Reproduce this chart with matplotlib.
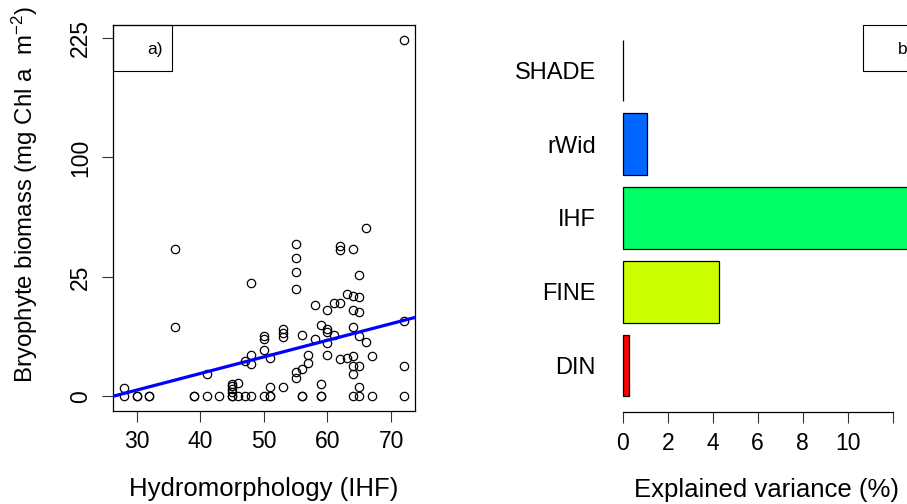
import matplotlib
matplotlib.use("Agg")
import matplotlib.pyplot as plt
import numpy as np
from matplotlib.patches import Rectangle

plt.rcParams.update({"font.family": "Liberation Sans", "mathtext.fontset": "custom",
                     "mathtext.rm": "Liberation Sans", "mathtext.it": "Liberation Sans:italic"})

# panel a: hydromorphology index vs bryophyte biomass
ihf = [28, 28, 30, 30, 32, 32, 36, 36, 39, 39, 41, 41, 43,
       45, 45, 45, 45, 45, 45, 46, 46, 47, 47, 48, 48, 48, 48,
       50, 50, 50, 50, 51, 51, 51, 51, 53, 53, 53, 53,
       55, 55, 55, 55, 55, 55, 56, 56, 56, 56, 57, 57, 58, 58,
       59, 59, 59, 59, 60, 60, 60, 60, 60, 61, 61, 62, 62, 62, 62, 63, 63,
       64, 64, 64, 64, 64, 64, 64, 64, 65, 65, 65, 65, 65, 65, 65,
       66, 66, 67, 67, 72, 72, 72, 72]
biomass = [0, 0.13, 0, 0, 0, 0, 37.9, 8.44, 0, 0, 0, 0.85, 0,
           0, 0, 0.28, 0.18, 0.09, 0.03, 0, 0.31, 0, 2.15, 0, 3.05, 1.8, 22.7,
           0, 6.46, 5.84, 3.83, 0, 0, 2.6, 0.15, 8.04, 7.12, 6.17, 0.15,
           40.6, 33.6, 27.0, 20.1, 1.04, 0.61, 0, 0, 6.53, 1.35, 2.95, 1.95, 14.5, 5.84,
           0, 0, 8.85, 0.25, 13.0, 8.04, 7.26, 4.98, 2.95, 15.4, 6.68, 39.5, 37.4, 15.4, 2.5, 18.2, 2.63,
           0, 38.3, 17.5, 13.2, 8.42, 2.81, 1.58, 0.85, 0, 25.8, 17.3, 12.4, 6.32, 1.58, 0.15,
           49.7, 5.17, 0, 2.81, 0, 223, 9.95, 1.65]
fit_intercept, fit_slope = -1.821, 0.0695   # sqrt(biomass) ~ IHF
y_ticks = [0, 25, 100, 225]

# panel b: explained variance
variables = ["DIN", "FINE", "IHF", "rWid", "SHADE"]
expl_var = [0.3, 4.3, 12.8, 1.1, 0.0]
bar_colors = ["#FF0000", "#CCFF00", "#00FF66", "#0066FF", "#CC00FF"]
x_ticks_b = [0, 2, 4, 6, 8, 10, 12]

W, H = 907, 504
fig = plt.figure(figsize=(W / 100, H / 100), dpi=100)


def fx(px):
    return px / W


def fy(py):
    return 1 - py / H


def ssqrt(v):
    v = np.asarray(v, float)
    return np.sign(v) * np.sqrt(np.abs(v))


def ssq(v):
    v = np.asarray(v, float)
    return np.sign(v) * v ** 2


def tag(a, text, width_px, height_px, right=False):
    # R-style legend box holding the panel letter
    x0 = 1 - 59.3 / width_px if right else 0
    a.add_patch(Rectangle((x0, 1), 59.3 / width_px, -45.7 / height_px, transform=a.transAxes,
                          fill=False, lw=0.8, ec="black", clip_on=False))
    a.text(x0 + 35 / width_px, 1 - 29 / height_px, text, transform=a.transAxes,
           fontsize=12.5, ha="left", va="baseline")


# ---- panel a
ax = fig.add_axes([fx(112.7), fy(410.7), fx(415) - fx(112.7), fy(25.3) - fy(410.7)])
ax.set_yscale("function", functions=(ssqrt, ssq))
ax.plot(ihf, biomass, "o", mfc="none", mec="black", ms=6.0, mew=0.9, ls="none")
xr = max(ihf) - min(ihf)
xl = (min(ihf) - 0.04 * xr, max(ihf) + 0.04 * xr)
sr = np.sqrt(max(biomass))
ax.set_xlim(*xl)
ax.set_ylim(ssq(-0.04 * sr), ssq(1.04 * sr))
xs = np.array(xl)
ax.plot(xs, ssq(np.clip(fit_intercept + fit_slope * xs, 0, None)), color="#0000FF", lw=2.3, zorder=3)
ax.set_xticks([30, 40, 50, 60, 70])
ax.set_yticks(y_ticks)
ax.set_yticklabels([str(t) for t in y_ticks], rotation=90, va="center")
ax.yaxis.set_minor_locator(matplotlib.ticker.NullLocator())
ax.tick_params(length=8, width=0.8, color="#333333", labelsize=16.5, pad=6)
ax.tick_params(axis="y", pad=7)
for s in ax.spines.values():
    s.set_linewidth(0.9)
tag(ax, "a)", 302.3, 385.4)

# ---- panel b
ax2 = fig.add_axes([fx(611.2), fy(410.7), fx(922.2) - fx(611.2), fy(25.3) - fy(410.7)])
ypos = [0.7 + 1.2 * i for i in range(len(variables))]
ax2.barh(ypos, expl_var, height=1.0, color=bar_colors, edgecolor="black", linewidth=0.9)
m = max(expl_var)
ax2.set_xlim(-0.04 * m, 1.04 * m)
ax2.set_ylim(-0.032, 6.232)
for side in ("top", "right", "left"):
    ax2.spines[side].set_visible(False)
ax2.spines["bottom"].set_bounds(0, 12)
ax2.spines["bottom"].set_position(("outward", 1))
ax2.spines["bottom"].set_linewidth(0.9)
ax2.set_xticks(x_ticks_b)
ax2.set_xticklabels([str(t) if t < 12 else "" for t in x_ticks_b])
ax2.set_yticks(ypos)
ax2.set_yticklabels(variables)
ax2.tick_params(axis="x", length=8, width=0.8, color="#333333", labelsize=16.5, pad=6)
ax2.tick_params(axis="y", length=0, labelsize=17, pad=11)
tag(ax2, "b)", 311.0, 385.4, right=True)

# axis titles
fig.text(fx(264), fy(495.7), "Hydromorphology (IHF)", fontsize=18.5, ha="center", va="baseline")
fig.text(fx(767), fy(496.5), "Explained variance (%)", fontsize=18.5, ha="center", va="baseline")
fig.text(fx(33), fy(195), r"Bryophyte biomass (mg Chl a  m$\mathregular{^{-2}}$)", fontsize=17.3,
         rotation=90, rotation_mode="anchor", ha="center", va="baseline")

fig.savefig("out.png", dpi=100)
